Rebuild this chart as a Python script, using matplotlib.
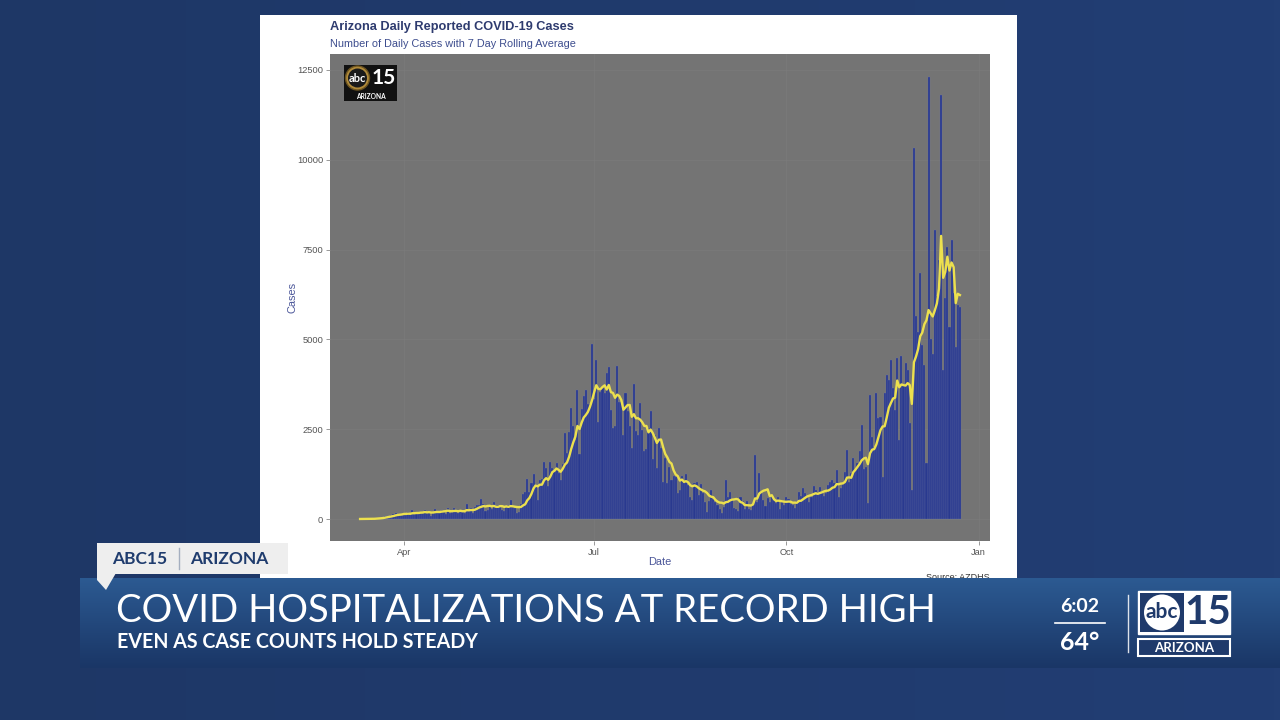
import numpy as np
import pandas as pd
import matplotlib
matplotlib.use("Agg")
import matplotlib.pyplot as plt
import matplotlib.dates as mdates
from matplotlib.patches import Rectangle, Polygon, Circle

# daily reported cases, 2020-03-11 .. 2020-12-23
cases_mar = [1, 2, 3, 4, 5, 7, 9, 18, 27, 39, 39, 48, 83, 91, 75, 106, 143, 160, 133, 140, 132]
cases_apr = [170, 124, 183, 138, 240, 150, 165, 179, 190, 200, 241, 170, 192, 90, 187,
             266, 229, 223, 256, 237, 133, 296, 161, 207, 294, 241, 177, 234, 206, 167]
cases_may = [410, 262, 299, 158, 326, 397, 387, 550, 405, 227, 250, 358, 279, 484, 386, 393,
             363, 239, 228, 363, 401, 531, 350, 298, 169, 202, 406, 704, 744, 1127, 739]
cases_jun = [1000, 1250, 980, 520, 1080, 1120, 1580, 1430, 920, 1600, 1410, 1350, 1560, 1290, 1080,
             1520, 2390, 1830, 2430, 3100, 2590, 2200, 3590, 1800, 3060, 3430, 3590, 3200, 3210, 4880]
cases_jul = [3330, 4430, 2700, 3540, 3650, 3520, 4060, 4220, 3040, 2540, 2590, 4270, 3260, 3260, 2330,
             3500, 3000, 2600, 1970, 3770, 2460, 2340, 3230, 2490, 1880, 1960, 2530, 3000, 1680, 2340, 1430]
cases_aug = [2520, 1990, 1030, 1700, 1010, 1460, 1100, 1200, 1180, 720, 820, 1210, 1010, 1240, 950,
             620, 520, 1000, 1040, 660, 980, 720, 480, 200, 490, 820, 560, 470, 380, 280, 180]
cases_sep = [330, 1090, 620, 750, 530, 320, 270, 210, 600, 510, 290, 490, 290, 240, 420,
             1780, 470, 1280, 790, 540, 350, 580, 460, 640, 520, 440, 600, 280, 520, 380]
cases_oct = [620, 560, 420, 400, 300, 490, 740, 650, 850, 730, 640, 460, 600, 930, 810, 740,
             890, 770, 640, 730, 960, 1030, 1080, 1000, 1360, 610, 860, 1000, 1320, 1920, 1040]
cases_nov = [1290, 1700, 1330, 1570, 1880, 2620, 1400, 1440, 450, 3450, 2270, 2000, 3500, 2800, 2850,
             1160, 3500, 4000, 3880, 4430, 3660, 3030, 4480, 2200, 4540, 3750, 4340, 4140, 2660, 800]
cases_dec = [10320, 5650, 5200, 6850, 4850, 4300, 1560, 12310, 5000, 4600, 8050, 6200, 7200, 11810,
             4140, 6150, 7570, 5350, 7770, 6290, 4800, 5960, 5900]

start_date = "2020-03-11"
y_ticks = [0, 2500, 5000, 7500, 10000, 12500]
x_tick_dates = ["2020-04-01", "2020-07-01", "2020-10-01", "2021-01-01"]
x_tick_labels = ["Apr", "Jul", "Oct", "Jan"]

chart_title = "Arizona Daily Reported COVID-19 Cases"
chart_subtitle = "Number of Daily Cases with 7 Day Rolling Average"
headline = "COVID HOSPITALIZATIONS AT RECORD HIGH"
subheadline = "EVEN AS CASE COUNTS HOLD STEADY"

cases = (cases_mar + cases_apr + cases_may + cases_jun + cases_jul + cases_aug
         + cases_sep + cases_oct + cases_nov + cases_dec)
dates = pd.date_range(start_date, periods=len(cases), freq="D")
rolling = pd.Series(cases).rolling(7, min_periods=1).mean()

W, H = 1280, 720
fig = plt.figure(figsize=(12.8, 7.2), dpi=100)


def pixel_axes(z):
    a = fig.add_axes([0, 0, 1, 1], zorder=z)
    a.set_xlim(0, W)
    a.set_ylim(H, 0)
    a.axis("off")
    a.patch.set_alpha(0)
    return a


def gradient(c1, c2, n=200):
    c1 = np.array(matplotlib.colors.to_rgb(c1))
    c2 = np.array(matplotlib.colors.to_rgb(c2))
    t = np.linspace(0, 1, n)[:, None]
    return c1 + (c2 - c1) * t


# screen background + white chart card
bg = pixel_axes(0)
bg.imshow(gradient("#1e3766", "#223e74")[None, :, :], extent=[0, W, H, 0], aspect="auto")
bg.add_patch(Rectangle((260, 15), 757, 575, fc="white", ec="none"))
bg.set_xlim(0, W)
bg.set_ylim(H, 0)

bg.text(330, 27, chart_title, family="Liberation Sans", weight="bold", fontsize=9.2,
        color="#2e3b6f", va="center")
bg.text(330, 44, chart_subtitle, family="Liberation Sans", fontsize=7.8,
        color="#3d4d8e", va="center")
bg.text(292, 297, "Cases", family="Liberation Sans", fontsize=7.9, color="#4b5699",
        rotation=90, ha="center", va="center")
bg.text(660, 562, "Date", family="Liberation Sans", fontsize=7.9, color="#4b5699",
        ha="center", va="center")
bg.text(990, 577, "Source: AZDHS", family="Liberation Sans", fontsize=6.5, color="#333333",
        ha="right", va="center")

# the chart itself
ax = fig.add_axes([330 / W, 1 - 541 / H, 660 / W, 487 / H], zorder=1)
ax.set_facecolor("#747474")
ax.bar(dates, cases, width=1.0, color="#29398f", edgecolor="#6f78a6", linewidth=0.2)
ax.plot(dates, rolling, color="#ece04e", lw=1.7)
apr1 = mdates.date2num(pd.Timestamp("2020-04-01"))
ax.set_xlim(apr1 - 35.4, apr1 + 280.4)
ax.set_ylim(-612, 12945)
ax.set_yticks(y_ticks)
ax.set_yticklabels([str(v) for v in y_ticks])
ax.set_xticks([mdates.date2num(pd.Timestamp(d)) for d in x_tick_dates])
ax.set_xticklabels(x_tick_labels)
for s in ax.spines.values():
    s.set_visible(False)
ax.tick_params(length=3, width=0.6, color="#888888", labelcolor="#555555", labelsize=6.7, pad=2)
for lab in ax.get_xticklabels() + ax.get_yticklabels():
    lab.set_family("Liberation Sans")
ax.grid(color="#7b7b7b", lw=0.5)
ax.set_axisbelow(True)

# station bug inside the chart
ov = pixel_axes(3)
ov.add_patch(Rectangle((344, 65), 53, 36, fc="#111111", ec="none"))
ov.add_patch(Circle((357.5, 78), 12, fc="#b08a3a", ec="#6b5320", lw=1))
ov.add_patch(Circle((357.5, 78), 9.5, fc="#1a1a1a", ec="none"))
ov.text(357.5, 78, "abc", color="white", fontsize=8, weight="bold", family="Lato",
        ha="center", va="center")
ov.text(384, 78, "15", color="white", fontsize=15, weight="bold", family="Lato",
        ha="center", va="center")
ov.text(370.5, 96.5, "ARIZONA", color="white", fontsize=4.8, weight="bold", family="Lato",
        ha="center", va="center")

# lower third
ov.imshow(gradient("#2c5a92", "#1a3666")[:, None, :], extent=[80, W, 668, 578], aspect="auto")
ov.add_patch(Rectangle((97, 543), 191, 31, fc="#eeeeee", ec="none"))
ov.add_patch(Polygon([(97, 573), (97, 580), (106, 590), (116, 573)], closed=True,
                     fc="#eeeeee", ec="none"))
ov.text(112, 558.5, "ABC15", color="#1f3c6e", fontsize=12.5, weight="bold", family="Lato",
        va="center")
ov.plot([179, 179], [548, 569], color="#a5afc0", lw=1)
ov.text(190, 558.5, "ARIZONA", color="#1f3c6e", fontsize=12.5, weight="bold", family="Lato",
        va="center")
ov.text(116, 611, headline, color="white", fontsize=27.6, weight="normal", family="Lato",
        va="center")
ov.text(117, 642, subheadline, color="white", fontsize=14.1, weight="bold", family="Lato",
        va="center")

ov.text(1080, 607, "6:02", color="white", fontsize=14, weight="bold", family="Lato",
        ha="center", va="center")
ov.plot([1055, 1105], [623, 623], color="white", lw=1.2)
ov.text(1080, 642, "64°", color="white", fontsize=18, weight="bold", family="Lato",
        ha="center", va="center")
ov.plot([1128, 1128], [595, 652], color="white", lw=1, alpha=0.85)

ov.add_patch(Rectangle((1138, 591), 92, 43, fc="white", ec="white", lw=1))
ov.add_patch(Rectangle((1140, 593), 44, 39, fc="#1f3a6b", ec="none"))
ov.add_patch(Circle((1162, 612.5), 18, fc="white", ec="none"))
ov.text(1162, 612, "abc", color="#1f3a6b", fontsize=15, weight="bold", family="Lato",
        ha="center", va="center")
ov.text(1208, 612, "15", color="#1f3a6b", fontsize=29, weight="bold", family="Lato",
        ha="center", va="center")
ov.add_patch(Rectangle((1138, 639), 92, 17, fc="#1f3a6b", ec="white", lw=1.5))
ov.text(1184, 647.5, "ARIZONA", color="white", fontsize=9.5, weight="bold", family="Lato",
        ha="center", va="center")
ov.set_xlim(0, W)
ov.set_ylim(H, 0)

fig.savefig("out.png", dpi=100)
